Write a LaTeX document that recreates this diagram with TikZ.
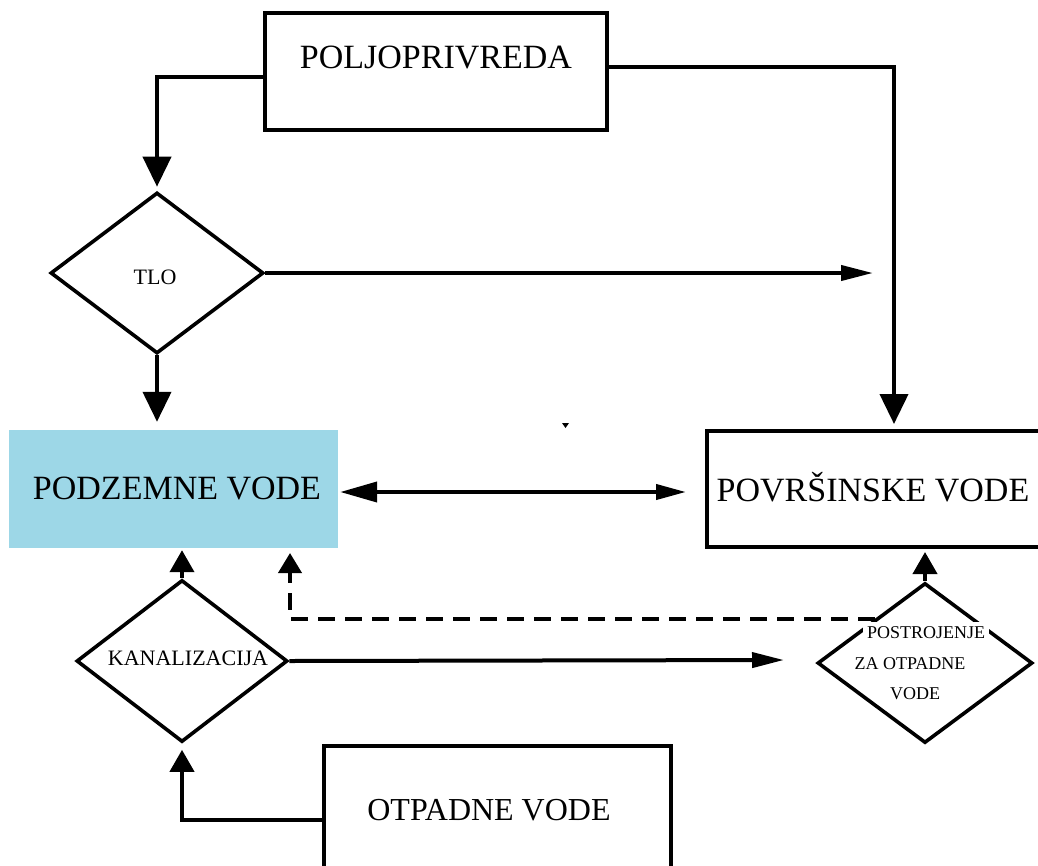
\documentclass[tikz,border=0pt]{standalone}
\usepackage{fontspec}
\setmainfont{Liberation Serif}
\usetikzlibrary{shapes.geometric,arrows.meta,calc}
\definecolor{podblue}{RGB}{157,215,231}
\begin{document}
\begin{tikzpicture}[x=1pt,y=-1pt,
  box/.style={draw,line width=4pt,rectangle,inner sep=0pt},
  dia/.style={draw,line width=3.6pt,diamond,inner sep=0pt},
  bigtxt/.style={inner sep=0pt,font=\fontsize{34}{40}\selectfont},
  midtxt/.style={inner sep=0pt,font=\fontsize{22}{26}\selectfont},
  smalltxt/.style={inner sep=0pt,font=\fontsize{18}{22}\selectfont},
  conn/.style={line width=4pt},
  bigarr/.style={conn,-{Triangle[length=30pt,width=28pt]}},
  uparr/.style={conn,-{Triangle[length=22pt,width=24pt]}},
  thinarr/.style={conn,-{Triangle[length=32pt,width=15pt]}},
  dashconn/.style={conn,dash pattern=on 17pt off 10pt,-{Triangle[length=20pt,width=23pt]}}
]
\useasboundingbox (0,0) rectangle (1038,865);

% boxes
\node[box,minimum width=342pt,minimum height=117pt] (polj) at (436,71.5) {};
\node[bigtxt] (poljt) at (436,57) {POLJOPRIVREDA};

\node[rectangle,fill=podblue,inner sep=0pt,minimum width=329pt,minimum height=118pt] (pod) at (173.5,489) {};
\node[bigtxt] (podt) at (177,488) {PODZEMNE VODE};

\node[box,minimum width=340pt,minimum height=116pt] (pov) at (877,489) {};
\node[bigtxt] (povt) at (873,487) {POVRŠINSKE VODE};

\node[box,minimum width=347pt,minimum height=140pt] (otp) at (497.5,816) {};
\node[bigtxt,font=\fontsize{32}{38}\selectfont] (otpt) at (489,810) {OTPADNE VODE};

% diamonds
\node[dia,minimum width=213pt,minimum height=161pt] (tlo) at (157,273) {};
\node[midtxt] (tlot) at (155,277) {TLO};

\node[dia,minimum width=211pt,minimum height=162pt] (kan) at (182,661) {};
\node[midtxt] (kant) at (188,658) {KANALIZACIJA};

\node[dia,minimum width=215pt,minimum height=160pt] (post) at (925,663) {};
\node[smalltxt,fill=white,inner xsep=4pt,inner ysep=5pt] (post1) at (926,633) {POSTROJENJE};
\node[smalltxt] (post2) at (910,664) {ZA OTPADNE};
\node[smalltxt] (post3) at (915,694) {VODE};

% free ends
\coordinate (tloend) at (873,273);
\coordinate (kanend) at (784,660);
\coordinate (dtip) at (290,548);

% connectors
\draw[bigarr,shorten >=4pt] ([yshift=-5.5pt]polj.west) -| (tlo.north);
\draw[bigarr,shorten >=5pt] ([yshift=4.5pt]polj.east) -| ([xshift=17pt]pov.north);
\draw[thinarr] (tlo.east) -- (tloend);
\draw[bigarr,shorten >=8pt] (tlo.south) -- (tlo.south |- pod.north);
\draw[conn,{Triangle[length=37pt,width=20pt]}-{Triangle[length=30pt,width=15pt]},shorten <=2pt,shorten >=19pt]
  ([yshift=-3pt]pod.east) -- ([yshift=-3pt]pod.east -| pov.west);
\draw[uparr,shorten >=2pt] (kan.north) -- (kan.north |- pod.south);
\draw[thinarr] (kan.east) -- (kanend);
\draw[uparr,shorten >=6pt] ([yshift=-4pt]otp.west) -| (kan.south);
\draw[uparr,shorten >=3pt] (post.north) -- (post.north |- pov.south);
\draw[dashconn,shorten >=5pt] ($(post.north)!0.46!(post.west)$) -| (dtip);

% small stray mark
\fill (562,423) -- (569,423) -- (565.5,428) -- cycle;
\end{tikzpicture}
\end{document}
